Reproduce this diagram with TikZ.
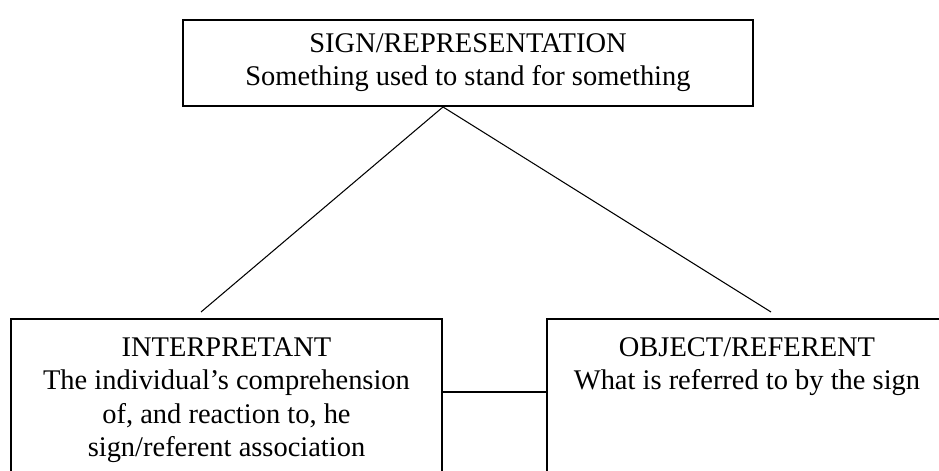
\documentclass[tikz,border=0pt]{standalone}
\usepackage{fontspec}
\setmainfont{Liberation Serif}
\usetikzlibrary{positioning}

\tikzset{
  box/.style={draw,rectangle,line width=1.1pt,inner sep=0pt},
  boxtext/.style={align=center,inner sep=0pt,font=\fontsize{16.2}{18.9}\selectfont},
  link/.style={line width=0.6pt}
}

\begin{document}
\begin{tikzpicture}
  \useasboundingbox (0,0) rectangle (18.78,-9.42);

  % Sign box
  \node[box,boxtext,minimum width=11.4cm,minimum height=1.72cm] (sign) at (9.36,-1.26)
    {SIGN/REPRESENTATION\\Something used to stand for something};

  % Lower boxes
  \node[box,minimum width=8.62cm,minimum height=3.5cm,anchor=north] (interp) at (4.53,-6.36) {};
  \node[box,minimum width=8cm,minimum height=3.5cm,anchor=north] (object) at (14.94,-6.36) {};

  % Texts
  \node[boxtext,below=0.39cm of interp.north] (interptext)
    {INTERPRETANT\\The individual’s comprehension\\of, and reaction to, he\\sign/referent association};
  \node[boxtext,below=0.39cm of object.north] (objecttext)
    {OBJECT/REFERENT\\What is referred to by the sign};

  % Free ends of the slanted lines
  \coordinate (leftend) at (4.02,-6.24);
  \coordinate (rightend) at (15.42,-6.24);

  % Lines
  \draw[link] ([xshift=-0.5cm]sign.south) -- (leftend);
  \draw[link] ([xshift=-0.5cm]sign.south) -- (rightend);
  \draw[link,line width=0.85pt] ([yshift=-1.48cm]interp.north east) -- ([yshift=-1.48cm]object.north west);

\end{tikzpicture}
\end{document}
